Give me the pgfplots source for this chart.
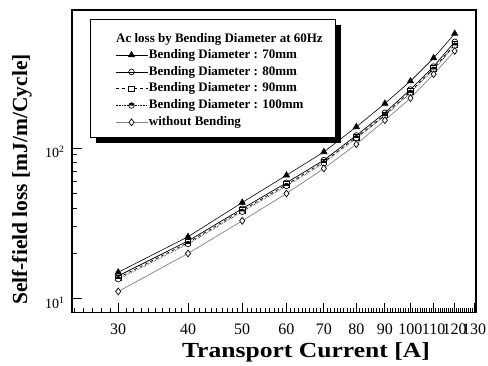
\documentclass[border=0pt]{standalone}
\usepackage{fontspec}
\setmainfont{Liberation Serif}
\usepackage{pgfplots}
\pgfplotsset{compat=1.18}
\usetikzlibrary{plotmarks}

\pgfplotstableread{
x    d70   d80   d90   d100  wo
30   15.0  14.2  13.8  13.5  11.2
40   25.8  24.2  23.6  23.1  20.0
50   43.5  39.6  38.6  37.8  32.9
60   65.9  58.8  57.2  56.0  49.9
70   94.1  83.0  80.8  79.2  73.1
80   137.8 121   118   116   105.8
90   197   171   166   163   152.6
100  277   244   237   232   214
110  394   346   336   330   308
120  572   505   486   476   439
}\datatable

\begin{document}
\begin{tikzpicture}
\begin{axis}[
  scale only axis, width=404pt, height=302.7pt,
  at={(0pt,0pt)}, anchor=south west,
  xmode=log, ymode=log,
  xmin=24.8, xmax=131, ymin=8.1, ymax=820,
  xtick={30,40,50,60,70,80,90,100,110,120,130},
  xticklabels={30,40,50,60,70,80,90,100,110,120,130},
  minor xtick={25,26,...,131},
  ytick={10,100},
  yticklabels={10\textsuperscript{1},10\textsuperscript{2}},
  xtick pos=left, ytick pos=left,
  tick align=inside,
  major tick length=10pt, minor tick length=5pt,
  axis line style={line width=1.2pt},
  every tick/.style={black, line width=0.8pt},
  xticklabel style={font=\fontsize{16}{16}\selectfont, yshift=-8pt},
  yticklabel style={font=\fontsize{14}{14}\selectfont, xshift=-4pt, yshift=-4pt},
  xlabel={Transport Current [A]},
  ylabel={Self-field loss [mJ/m/Cycle]},
  xlabel style={font=\bfseries\fontsize{21.5}{21.5}\selectfont\addfontfeature{FakeStretch=1.19}, at={(axis description cs:0.579,-0.131)}, anchor=center},
  ylabel style={font=\bfseries\fontsize{21.5}{21.5}\selectfont, at={(axis description cs:-0.1238,0.44)}, anchor=center},
  legend style={at={(rel axis cs:0.1064,0.8788)}, anchor=north west, draw=none, fill=none, inner sep=0pt,
    font=\bfseries\fontsize{13}{13}\selectfont, row sep=0.3pt,
    nodes={inner ysep=2pt, inner xsep=1pt, text height=9.5pt, text depth=3pt}},
  legend cell align=left,
  legend image code/.code={\draw[mark repeat=2,mark phase=2] plot coordinates {(0pt,0pt) (16pt,0pt) (32pt,0pt)};},
]
\fill[black] (rel axis cs:0.0594,0.5606) rectangle (rel axis cs:0.6658,0.9505);
\draw[fill=white, line width=0.8pt] (rel axis cs:0.0446,0.5804) rectangle (rel axis cs:0.651,0.9703);
\node[anchor=west, font=\bfseries\fontsize{13}{13}\selectfont, inner sep=0pt] at (rel axis cs:0.1089,0.9042) {Ac loss by Bending Diameter at 60Hz};

\addplot[black, line width=0.6pt, mark=triangle*, mark size=3.6pt, mark options={solid, fill=black}] table[x=x, y=d70] {\datatable};
\addlegendentry{Bending Diameter : 70mm}
\addplot[black, line width=0.7pt, mark=o, mark size=2.8pt, mark options={solid, fill=white}] table[x=x, y=d80] {\datatable};
\addlegendentry{Bending Diameter : 80mm}
\addplot[black, line width=0.7pt, dashed, mark=square*, mark size=2.8pt, mark options={solid, fill=white}] table[x=x, y=d90] {\datatable};
\addlegendentry{Bending Diameter : 90mm}
\addplot[black, line width=0.6pt, densely dotted, mark=halfcircle*, mark size=2.8pt, mark options={solid, fill=black}] table[x=x, y=d100] {\datatable};
\addlegendentry{Bending Diameter : 100mm}
\addplot[gray, line width=0.7pt, mark=diamond*, mark size=3.4pt, mark options={solid, draw=black, fill=white}] table[x=x, y=wo] {\datatable};
\addlegendentry{without Bending}
\end{axis}
\pgfresetboundingbox
\path (-72pt,-52.3pt) rectangle (416pt,312.7pt);
\end{tikzpicture}
\end{document}
